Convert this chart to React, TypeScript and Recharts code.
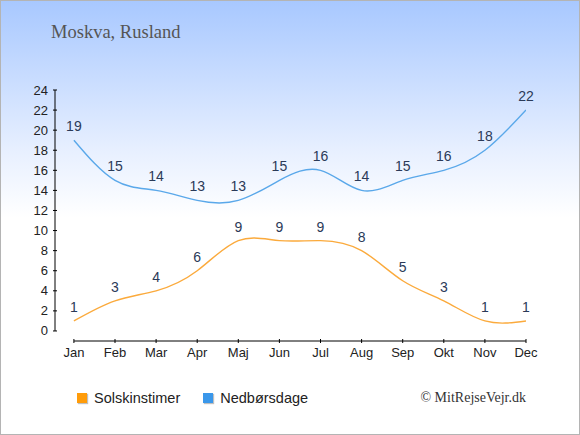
import { LineChart, Line, XAxis, YAxis, LabelList, ReferenceLine } from 'recharts';

const months = ['Jan', 'Feb', 'Mar', 'Apr', 'Maj', 'Jun', 'Jul', 'Aug', 'Sep', 'Okt', 'Nov', 'Dec'];
const sunHours = [1, 3, 4, 6, 9, 9, 9, 8, 5, 3, 1, 1];
const rainDays = [19, 15, 14, 13, 13, 15, 16, 14, 15, 16, 18, 22];
const yTicks = [0, 2, 4, 6, 8, 10, 12, 14, 16, 18, 20, 22, 24];

const data = months.map((month, i) => ({
  i,
  month,
  sun: sunHours[i],
  rain: rainDays[i],
}));

const SUN = '#fbaa3c';
const RAIN = '#5aa8ea';
const LABEL = '#2b3a58';
const FONT = '"Liberation Sans", Arial, sans-serif';
const SERIF = '"Liberation Serif", "Times New Roman", serif';

const XTick = (props: any) => {
  const { x, y, payload } = props;
  return (
    <g>
      <line x1={x} x2={x} y1={y - 2} y2={y + 2} stroke="#000" />
      <text x={x} y={y + 16} textAnchor="middle" fontSize={13} fill="#222" fontFamily={FONT}>
        {months[payload.value]}
      </text>
    </g>
  );
};

const YTick = (props: any) => {
  const { x, y, payload } = props;
  return (
    <g>
      <line x1={x - 2} x2={x + 2} y1={y} y2={y} stroke="#000" />
      <text x={x - 7} y={y + 4.5} textAnchor="end" fontSize={13} fill="#222" fontFamily={FONT}>
        {payload.value}
      </text>
    </g>
  );
};

const legendItems = [
  { name: 'Solskinstimer', color: '#ff9c0a' },
  { name: 'Nedbørsdage', color: '#3a97ea' },
];

const LegendBox = () => (
  <div
    style={{
      position: 'absolute',
      left: 76,
      top: 389,
      display: 'flex',
      alignItems: 'center',
      fontFamily: FONT,
      fontSize: 14.5,
      color: '#222',
    }}
  >
    {legendItems.map((item, k) => (
      <div key={item.name} style={{ display: 'flex', alignItems: 'center', marginRight: k === 0 ? 23 : 0 }}>
        <span
          style={{
            display: 'inline-block',
            width: 10,
            height: 10,
            background: item.color,
            boxShadow: '1px 1px 1px rgba(0,0,0,0.25)',
            marginRight: 7,
          }}
        />
        <span>{item.name}</span>
      </div>
    ))}
  </div>
);

export default function App() {
  return (
    <div
      style={{
        position: 'absolute',
        left: 0,
        top: 0,
        width: 580,
        height: 435,
        boxSizing: 'border-box',
        border: '1px solid #b4b4b4',
        background: 'linear-gradient(to bottom, #a8c8ff 0%, #e8f0ff 35%, #ffffff 50%, #ffffff 100%)',
        overflow: 'hidden',
      }}
    >
      <div
        style={{
          position: 'absolute',
          left: 50,
          top: 21,
          fontFamily: SERIF,
          fontSize: 18.5,
          color: '#555',
        }}
      >
        Moskva, Rusland
      </div>
      <div
        style={{
          position: 'absolute',
          right: 53,
          top: 389,
          fontFamily: SERIF,
          fontSize: 14,
          color: '#333',
        }}
      >
        © MitRejseVejr.dk
      </div>
      <LineChart
        width={578}
        height={433}
        data={data}
        margin={{ top: 89, right: 53, bottom: 63, left: 0 }}
        style={{ position: 'absolute', left: 0, top: 0 }}
      >
        <XAxis
          type="number"
          dataKey="i"
          domain={[-0.46, 11]}
          ticks={months.map((_, i) => i)}
          axisLine={false}
          tickLine={false}
          tickSize={0}
          tickMargin={0}
          tick={<XTick />}
          interval={0}
          height={30}
          allowDataOverflow
        />
        <YAxis
          type="number"
          domain={[-1, 24]}
          ticks={yTicks}
          width={54}
          axisLine={false}
          tickLine={false}
          tickSize={0}
          tickMargin={0}
          tick={<YTick />}
          interval={0}
          allowDataOverflow
        />
        <ReferenceLine
          segment={[{ x: 0, y: -1 }, { x: 11, y: -1 }]}
          stroke="#000"
          strokeWidth={1}
          ifOverflow="visible"
        />
        <ReferenceLine
          segment={[{ x: -0.46, y: 0 }, { x: -0.46, y: 24 }]}
          stroke="#000"
          strokeWidth={1}
          ifOverflow="visible"
        />
        <Line
          type="natural"
          dataKey="sun"
          name="Solskinstimer"
          stroke={SUN}
          strokeWidth={1.4}
          dot={false}
          isAnimationActive={false}
        >
          <LabelList dataKey="sun" position="top" offset={9} fill={LABEL} fontSize={14} fontFamily={FONT} />
        </Line>
        <Line
          type="natural"
          dataKey="rain"
          name="Nedbørsdage"
          stroke={RAIN}
          strokeWidth={1.4}
          dot={false}
          isAnimationActive={false}
        >
          <LabelList dataKey="rain" position="top" offset={9} fill={LABEL} fontSize={14} fontFamily={FONT} />
        </Line>
      </LineChart>
      <LegendBox />
    </div>
  );
}
